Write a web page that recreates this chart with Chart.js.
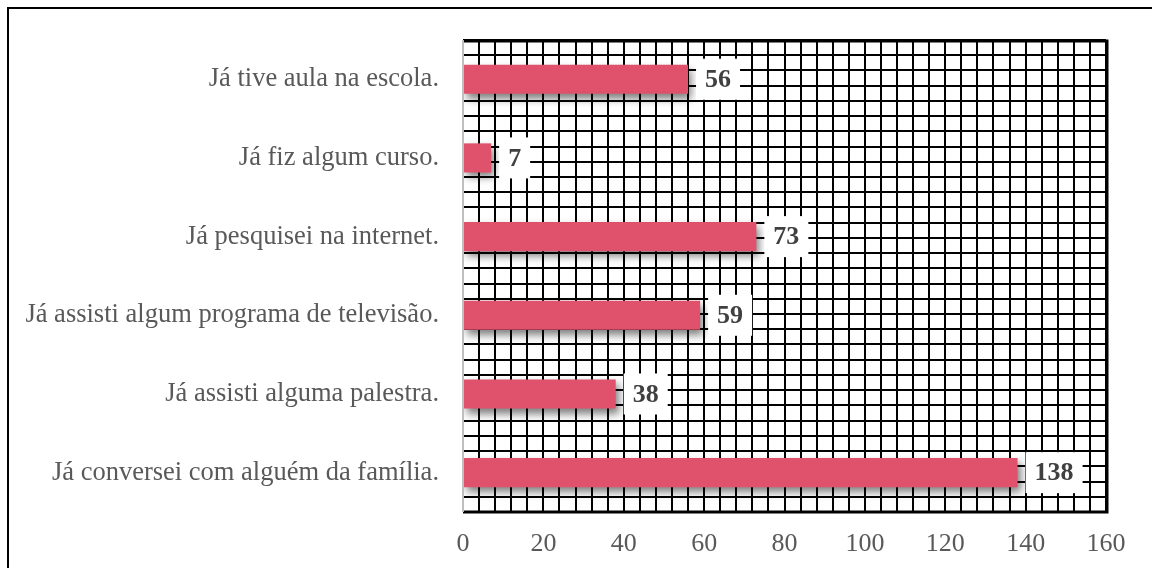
<!DOCTYPE html>
<html>
<head>
<meta charset="utf-8">
<script src="https://cdn.jsdelivr.net/npm/chart.js@4/dist/chart.umd.min.js"></script>
<style>
  html, body { margin: 0; padding: 0; background: #fff; overflow: hidden; }
  #wrap { position: relative; width: 1152px; height: 568px; }
  #frame { position: absolute; left: 7px; top: 7px; width: 1200px; height: 620px; border: 2px solid #000; box-sizing: border-box; pointer-events: none; }
  canvas { position: absolute; left: 0; top: 0; }
</style>
</head>
<body>
<div id="wrap">
  <canvas id="c" width="1152" height="568"></canvas>
  <div id="frame"></div>
</div>
<script>
const categories = [
  "Já tive aula na escola.",
  "Já fiz algum curso.",
  "Já pesquisei na internet.",
  "Já assisti algum programa de televisão.",
  "Já assisti alguma palestra.",
  "Já conversei com alguém da família."
];
const values = [56, 7, 73, 59, 38, 138];
const xTickLabels = [0, 20, 40, 60, 80, 100, 120, 140, 160];

const SERIF = '"Liberation Serif", "Times New Roman", serif';

const barShadow = {
  id: 'barShadow',
  beforeDatasetsDraw(chart) {
    const ctx = chart.ctx;
    ctx.save();
    ctx.shadowColor = 'rgba(0,0,0,0.5)';
    ctx.shadowBlur = 8;
    ctx.shadowOffsetX = 3;
    ctx.shadowOffsetY = 5;
  },
  afterDatasetsDraw(chart) {
    chart.ctx.restore();
  }
};

const plotFrame = {
  id: 'plotFrame',
  afterDatasetsDraw(chart) {
    const a = chart.chartArea;
    const ctx = chart.ctx;
    ctx.save();
    ctx.strokeStyle = '#000';
    ctx.lineWidth = 3;
    ctx.beginPath();
    ctx.moveTo(a.left, a.top + 1);
    ctx.lineTo(a.right + 1, a.top + 1);
    ctx.lineTo(a.right + 1, a.bottom);
    ctx.lineTo(a.left, a.bottom);
    ctx.stroke();
    ctx.strokeStyle = '#BFBFBF';
    ctx.lineWidth = 2;
    ctx.beginPath();
    ctx.moveTo(a.left, a.top);
    ctx.lineTo(a.left, a.bottom);
    ctx.stroke();
    ctx.restore();
  }
};

const valueLabels = {
  id: 'valueLabels',
  afterDatasetsDraw(chart) {
    const ctx = chart.ctx;
    const meta = chart.getDatasetMeta(0);
    ctx.save();
    ctx.font = 'bold 26px ' + SERIF;
    ctx.textBaseline = 'middle';
    ctx.textAlign = 'center';
    meta.data.forEach((el, i) => {
      const txt = String(chart.data.datasets[0].data[i]);
      const w = ctx.measureText(txt).width + 18;
      const h = 41;
      const x0 = el.x + 8;
      const y0 = el.y - h / 2;
      ctx.fillStyle = '#ffffff';
      ctx.fillRect(x0, y0, w, h);
      ctx.fillStyle = '#404040';
      ctx.fillText(txt, x0 + w / 2, el.y + 1);
    });
    ctx.restore();
  }
};

new Chart(document.getElementById('c'), {
  type: 'bar',
  data: {
    labels: categories,
    datasets: [{
      data: values,
      backgroundColor: '#E0526B',
      borderWidth: 0,
      categoryPercentage: 1,
      barPercentage: 0.37
    }]
  },
  options: {
    indexAxis: 'y',
    responsive: false,
    animation: false,
    devicePixelRatio: 1,
    layout: { padding: { top: 33, right: 46, left: 0, bottom: 0 } },
    plugins: { legend: { display: false }, tooltip: { enabled: false } },
    scales: {
      x: {
        type: 'linear',
        min: 0,
        max: 160,
        afterFit(s) { s.height = 56; },
        ticks: {
          stepSize: 4,
          autoSkip: false,
          maxRotation: 0,
          padding: 17,
          color: '#595959',
          font: { family: SERIF, size: 26 },
          callback: (v) => xTickLabels.includes(v) ? String(v) : ''
        },
        grid: {
          drawTicks: false,
          color: '#000000',
          lineWidth: 2
        },
        border: { display: false }
      },
      y: {
        type: 'category',
        afterFit(s) { s.width = 463; },
        ticks: {
          padding: 24,
          color: '#595959',
          font: { family: SERIF, size: 26.5 }
        },
        grid: { display: false, drawTicks: false },
        border: { display: false }
      },
      yGrid: {
        type: 'linear',
        position: 'right',
        min: 0,
        max: 30,
        afterFit(s) { s.width = 0; },
        ticks: { display: false, stepSize: 1 },
        grid: {
          drawTicks: false,
          color: '#000000',
          lineWidth: 2
        },
        border: { display: false }
      }
    }
  },
  plugins: [barShadow, plotFrame, valueLabels]
});
</script>
</body>
</html>
